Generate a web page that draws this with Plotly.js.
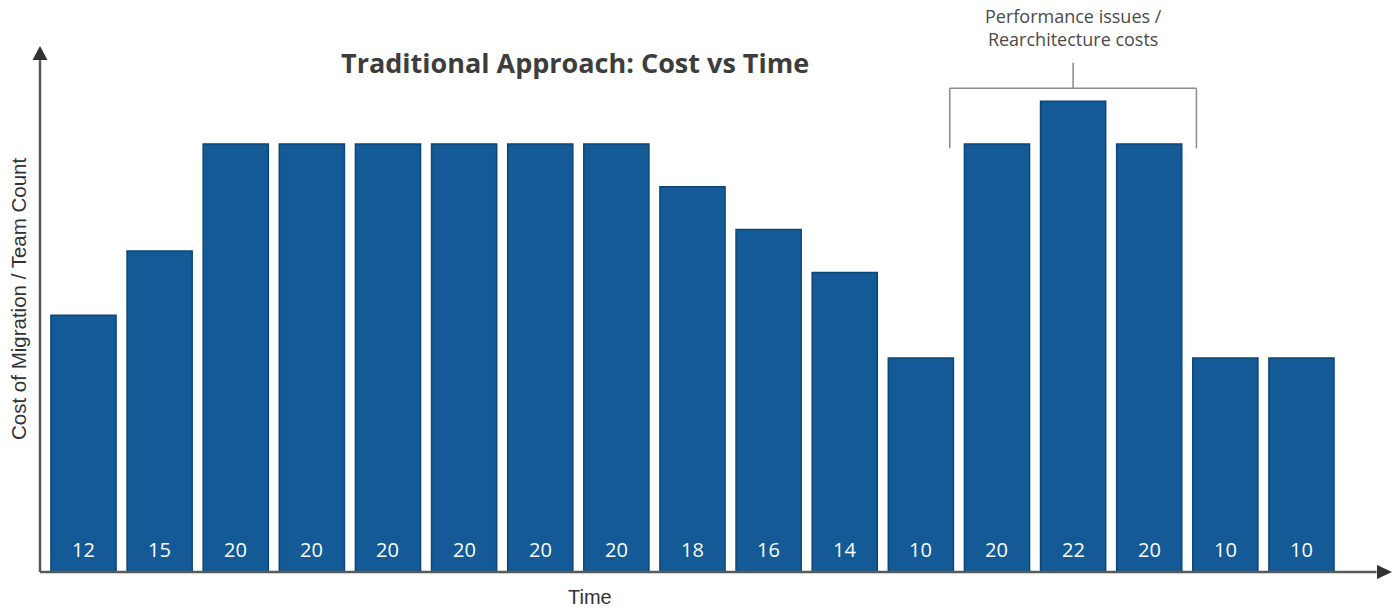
<!DOCTYPE html>
<html><head><meta charset="utf-8">
<script src="https://cdn.plot.ly/plotly-3.0.1.min.js"></script>
<style>html,body{margin:0;padding:0;background:#fff;}#chart{width:1400px;height:610px;}</style>
</head><body><div id="chart"></div>
<script>
const periods = [0,1,2,3,4,5,6,7,8,9,10,11,12,13,14,15,16];
const costs = [12,15,20,20,20,20,20,20,18,16,14,10,20,22,20,10,10];
const labels = costs.map(String);
const titleText = 'Traditional Approach: Cost vs Time';
const yTitle = 'Cost of Migration / Team Count';
const xTitle = 'Time';
const bracketText = 'Performance issues /<br>Rearchitecture costs';
const bracketBars = [12, 14];

const barColor = '#135a96';
const axisColor = '#595959';

const trace = {
  type: 'bar', x: periods, y: costs,
  marker: {color: barColor, line: {color: '#0c4677', width: 1.5}},
  hoverinfo: 'skip'
};

const L = 40, R = 10, T = 46, B = 38, W = 1400, H = 610;
const pw = W - L - R, ph = H - T - B;
const xr = [-0.5714, 17.163];
const px2paperX = p => (p - L) / pw;
const px2paperY = p => (H - B - p) / ph;
const dataX2paper = x => (x - xr[0]) / (xr[1] - xr[0]);

const annotations = periods.map((p, i) => ({
  x: p, y: 0, xref: 'x', yref: 'y', text: labels[i], showarrow: false,
  yanchor: 'middle', yshift: 22.5,
  font: {family: 'Open Sans, sans-serif', size: 20, color: '#ffffff'}
}));

const mid = (bracketBars[0] + bracketBars[1]) / 2;
annotations.push({
  x: dataX2paper(mid), y: px2paperY(27.5), xref: 'paper', yref: 'paper', text: bracketText, showarrow: false,
  xanchor: 'center', yanchor: 'middle', align: 'center',
  font: {family: 'Open Sans, sans-serif', size: 18, color: '#4a4a4a'}
});
annotations.push({
  x: px2paperX(575), y: px2paperY(62), xref: 'paper', yref: 'paper', text: '<b>' + titleText + '</b>', showarrow: false,
  xanchor: 'center', yanchor: 'middle',
  font: {family: 'Open Sans, sans-serif', size: 27, color: '#3d3d3d'}
});
annotations.push({
  x: px2paperX(590), y: px2paperY(597), xref: 'paper', yref: 'paper', text: xTitle, showarrow: false,
  xanchor: 'center', yanchor: 'middle',
  font: {family: 'Liberation Sans, Arial, sans-serif', size: 20, color: '#333333'}
});
annotations.push({
  x: px2paperX(18), y: px2paperY(299), xref: 'paper', yref: 'paper', text: yTitle, showarrow: false, textangle: -90,
  xanchor: 'center', yanchor: 'middle',
  font: {family: 'Liberation Sans, Arial, sans-serif', size: 20.5, color: '#333333'}
});

const bx0 = bracketBars[0] - 0.62, bx1 = bracketBars[1] + 0.62;
const bl = {color: '#8a8a8a', width: 1.5};
const shapes = [
  {type: 'line', xref: 'x', yref: 'y', x0: bx0, x1: bx1, y0: 22.6, y1: 22.6, line: bl},
  {type: 'line', xref: 'x', yref: 'y', x0: bx0, x1: bx0, y0: 22.6, y1: 19.8, line: bl},
  {type: 'line', xref: 'x', yref: 'y', x0: bx1, x1: bx1, y0: 22.6, y1: 19.8, line: bl},
  {type: 'line', xref: 'x', yref: 'y', x0: mid, x1: mid, y0: 22.6, y1: 23.8, line: bl},
  {type: 'line', xref: 'paper', yref: 'paper', x0: 0, x1: 0.99, y0: 0, y1: 0, line: {color: axisColor, width: 2.5}},
  {type: 'line', xref: 'paper', yref: 'paper', x0: 0, x1: 0, y0: 0, y1: 0.98, line: {color: axisColor, width: 2.5}},
  {type: 'path', xref: 'paper', yref: 'paper', xsizemode: 'pixel', ysizemode: 'pixel', xanchor: 0, yanchor: 1,
   path: 'M 0 0 L -7.5 -14 L 7.5 -14 Z', fillcolor: '#333333', line: {width: 0}},
  {type: 'path', xref: 'paper', yref: 'paper', xsizemode: 'pixel', ysizemode: 'pixel', xanchor: 1.0015, yanchor: 0,
   path: 'M 0 0 L -15 7 L -15 -7 Z', fillcolor: '#333333', line: {width: 0}}
];

const layout = {
  width: W, height: H,
  margin: {l: L, r: R, t: T, b: B},
  paper_bgcolor: '#ffffff', plot_bgcolor: '#ffffff',
  showlegend: false, bargap: 0.1445,
  xaxis: {range: xr, showgrid: false, zeroline: false, showticklabels: false, ticks: '', showline: false, fixedrange: true},
  yaxis: {range: [0, 24.58], showgrid: false, zeroline: false, showticklabels: false, ticks: '', showline: false, fixedrange: true},
  annotations: annotations, shapes: shapes
};

Plotly.newPlot('chart', [trace], layout, {displayModeBar: false, staticPlot: true});
</script>
</body></html>
